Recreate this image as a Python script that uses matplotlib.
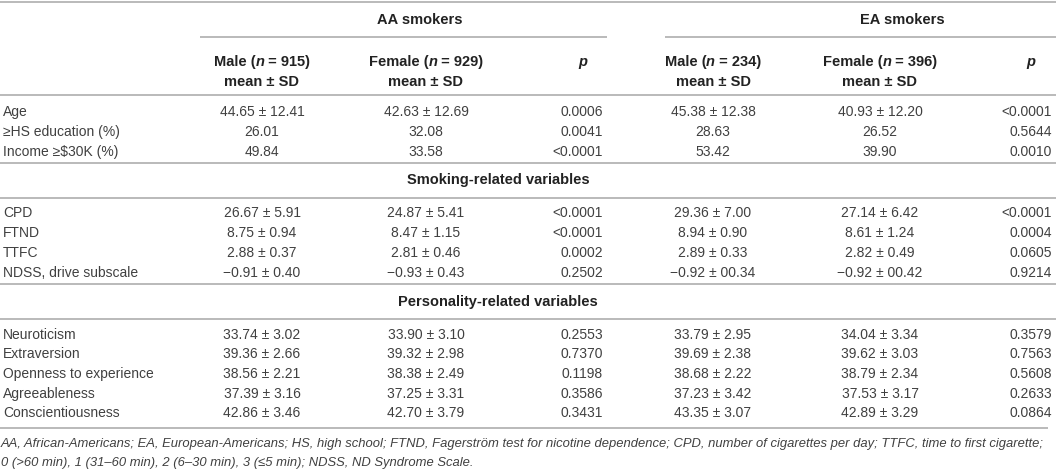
import matplotlib
matplotlib.use("Agg")
import matplotlib.pyplot as plt

plt.rcParams["font.family"] = ["Liberation Sans", "DejaVu Sans"]

row_labels = [
    "Age", "\u2265HS education (%)", "Income \u2265$30K (%)",
    "CPD", "FTND", "TTFC", "NDSS, drive subscale",
    "Neuroticism", "Extraversion", "Openness to experience",
    "Agreeableness", "Conscientiousness",
]
male_aa = ["44.65 \u00b1 12.41", "26.01", "49.84",
           "26.67 \u00b1 5.91", "8.75 \u00b1 0.94", "2.88 \u00b1 0.37", "\u22120.91 \u00b1 0.40",
           "33.74 \u00b1 3.02", "39.36 \u00b1 2.66", "38.56 \u00b1 2.21", "37.39 \u00b1 3.16", "42.86 \u00b1 3.46"]
female_aa = ["42.63 \u00b1 12.69", "32.08", "33.58",
             "24.87 \u00b1 5.41", "8.47 \u00b1 1.15", "2.81 \u00b1 0.46", "\u22120.93 \u00b1 0.43",
             "33.90 \u00b1 3.10", "39.32 \u00b1 2.98", "38.38 \u00b1 2.49", "37.25 \u00b1 3.31", "42.70 \u00b1 3.79"]
p_aa = ["0.0006", "0.0041", "<0.0001",
        "<0.0001", "<0.0001", "0.0002", "0.2502",
        "0.2553", "0.7370", "0.1198", "0.3586", "0.3431"]
male_ea = ["45.38 \u00b1 12.38", "28.63", "53.42",
           "29.36 \u00b1 7.00", "8.94 \u00b1 0.90", "2.89 \u00b1 0.33", "\u22120.92 \u00b1 00.34",
           "33.79 \u00b1 2.95", "39.69 \u00b1 2.38", "38.68 \u00b1 2.22", "37.23 \u00b1 3.42", "43.35 \u00b1 3.07"]
female_ea = ["40.93 \u00b1 12.20", "26.52", "39.90",
             "27.14 \u00b1 6.42", "8.61 \u00b1 1.24", "2.82 \u00b1 0.49", "\u22120.92 \u00b1 00.42",
             "34.04 \u00b1 3.34", "39.62 \u00b1 3.03", "38.79 \u00b1 2.34", "37.53 \u00b1 3.17", "42.89 \u00b1 3.29"]
p_ea = ["<0.0001", "0.5644", "0.0010",
        "<0.0001", "0.0004", "0.0605", "0.9214",
        "0.3579", "0.7563", "0.5608", "0.2633", "0.0864"]

groups = ["AA smokers", "EA smokers"]
ns = [["915", "929"], ["234", "396"]]
sections = ["Smoking-related variables", "Personality-related variables"]
footnote = [
    "AA, African-Americans; EA, European-Americans; HS, high school; FTND, Fagerstr\u00f6m test for "
    "nicotine dependence; CPD, number of cigarettes per day; TTFC, time to first cigarette;",
    "0 (>60 min), 1 (31\u201360 min), 2 (6\u201330 min), 3 (\u22645 min); NDSS, ND Syndrome Scale.",
]

W, H = 1056, 473
fig = plt.figure(figsize=(W / 100, H / 100), dpi=100)
ax = fig.add_axes([0, 0, 1, 1])
ax.set_xlim(0, W)
ax.set_ylim(H, 0)
ax.axis("off")
renderer = fig.canvas.get_renderer()

TXT = "#404040"
HDR = "#222222"
LINE = "#b4b4b4"
FS = 10.0
FSB = 10.5

col_cx = [262, 426, None, 713, 880, None]
p_right = [603, 1052]
p_hdr = [583, 1031]


def hline(y, x0=0, x1=W):
    ax.plot([x0, x1], [y, y], color=LINE, lw=1.3, solid_capstyle="butt")


def rich(x, y, parts, size=FSB):
    # parts: (text, style); centred as a whole on x
    objs = []
    for s, style in parts:
        t = ax.text(0, y, s, fontsize=size, fontweight="bold", fontstyle=style,
                    color=HDR, va="center", ha="left", parse_math=False)
        objs.append(t)
    widths = [o.get_window_extent(renderer).width for o in objs]
    cur = x - sum(widths) / 2
    for o, w in zip(objs, widths):
        o.set_x(cur)
        cur += w


hline(2)

# group headers
for g, cx, (x0, x1) in zip(groups, [420, 902], [(200, 607), (665, W)]):
    ax.text(cx, 20, g, fontsize=FSB, fontweight="bold", color=HDR, ha="center", va="center")
    hline(37, x0, x1)

for gi in range(2):
    base = gi * 3
    rich(col_cx[base], 62, [("Male (", "normal"), ("n", "italic"), (" = " + ns[gi][0] + ")", "normal")])
    rich(col_cx[base + 1], 62, [("Female (", "normal"), ("n", "italic"), (" = " + ns[gi][1] + ")", "normal")])
    for c in (col_cx[base], col_cx[base + 1]):
        ax.text(c, 82, "mean \u00b1 SD", fontsize=FSB, fontweight="bold", color=HDR,
                ha="center", va="center")
    ax.text(p_hdr[gi], 62, "p", fontsize=FSB, fontweight="bold", fontstyle="italic",
            color=HDR, ha="center", va="center")

hline(95)

row_y = [112, 132, 152, 213, 233, 253, 273, 335, 354, 374, 394, 413]
for i, lab in enumerate(row_labels):
    y = row_y[i]
    ax.text(3, y, lab, fontsize=FS, color=TXT, ha="left", va="center", parse_math=False)
    for vals, cx in zip([male_aa, female_aa, male_ea, female_ea],
                        [col_cx[0], col_cx[1], col_cx[3], col_cx[4]]):
        ax.text(cx, y, vals[i], fontsize=FS, color=TXT, ha="center", va="center")
    ax.text(p_right[0], y, p_aa[i], fontsize=FS, color=TXT, ha="right", va="center")
    ax.text(p_right[1], y, p_ea[i], fontsize=FS, color=TXT, ha="right", va="center")

hline(163)
ax.text(498, 180, sections[0], fontsize=FSB, fontweight="bold", color=HDR, ha="center", va="center")
hline(198)
hline(284)
ax.text(498, 302, sections[1], fontsize=FSB, fontweight="bold", color=HDR, ha="center", va="center")
hline(319)
hline(428, 0, 1048)

for y, line in zip([444, 463], footnote):
    ax.text(1, y, line, fontsize=9.4, fontstyle="italic", color=TXT, ha="left", va="center",
            parse_math=False)

fig.savefig("out.png", dpi=100)
